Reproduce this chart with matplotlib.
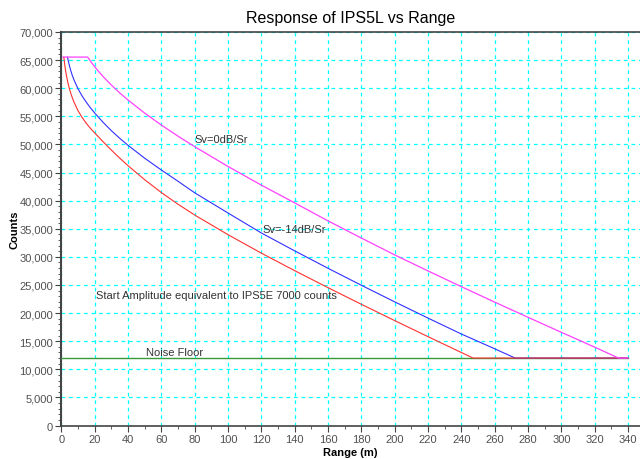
import matplotlib
matplotlib.use("Agg")
import matplotlib.pyplot as plt
from matplotlib.ticker import MultipleLocator, FuncFormatter, FixedLocator

plt.rcParams['font.family'] = ['Liberation Sans', 'DejaVu Sans']

# Data
red_x = [1.5, 2, 2.5, 3, 4, 5, 6, 7.5, 10, 12.5, 15, 17.5, 20, 25, 30, 35, 40, 50, 60,
         70, 80, 100, 120, 140, 160, 180, 200, 220, 240, 247, 340]
red_y = [65535, 64300, 63250, 62350, 60900, 59750, 58800, 57600, 56000, 54800, 53750,
         52850, 52050, 50500, 49000, 47575, 46225, 43725, 41445, 39365, 37445, 33945,
         30665, 27545, 24525, 21565, 18665, 15805, 12985, 12000, 12000]

blue_x = [3.7, 4.5, 5.5, 6.5, 7.5, 10, 12.5, 15, 17.5, 20, 25, 30, 35, 40, 50, 60, 70,
          80, 100, 120, 140, 160, 180, 200, 220, 240, 260, 272.3, 340]
blue_y = [65535, 64450, 63300, 62350, 61550, 59900, 58600, 57500, 56500, 55600, 53950,
          52450, 51100, 49850, 47550, 45450, 43450, 41400, 37800, 34250, 31070, 27970,
          24950, 22000, 19110, 16280, 13650, 12000, 12000]

mag_x = [1, 15.8, 17.5, 20, 22.5, 25, 30, 35, 40, 50, 60, 70, 80, 100, 120, 140, 160,
         180, 200, 220, 240, 260, 280, 300, 320, 334.3, 340]
mag_y = [65535, 65535, 64810, 63830, 62930, 62090, 60565, 59180, 57900, 55570, 53450,
         51470, 49600, 46080, 42760, 39600, 36400, 33350, 30350, 27500, 24700, 21950,
         19250, 16580, 13940, 12000, 12000]

noise_x = [0, 340]
noise_y = [12000, 12000]

x_ticks = list(range(0, 341, 20))
y_ticks = list(range(0, 70001, 5000))

fig = plt.figure(figsize=(6.4, 4.6), dpi=100)
ax = fig.add_axes([0.0958, 0.0728, 0.9042, 0.8555])

ax.plot(noise_x, noise_y, color='#3a9a3a', lw=1.0, zorder=3)
ax.plot(blue_x, blue_y, color='#3030ff', lw=0.8, zorder=4)
ax.plot(red_x, red_y, color='#ff3030', lw=0.8, zorder=5)
ax.plot(mag_x, mag_y, color='#ff40ff', lw=0.9, zorder=6)

ax.set_xlim(0, 347.2)
ax.set_ylim(0, 70000)
ax.xaxis.set_major_locator(FixedLocator(x_ticks))
ax.xaxis.set_minor_locator(MultipleLocator(10))
ax.yaxis.set_major_locator(FixedLocator(y_ticks))
ax.yaxis.set_minor_locator(MultipleLocator(1000))
ax.yaxis.set_major_formatter(FuncFormatter(lambda v, p: f"{v:,.0f}"))

ax.grid(True, which='major', color='#00ffff', linestyle=(0, (3, 3)), lw=0.9, zorder=1)

for s in ['left', 'bottom', 'top']:
    ax.spines[s].set_color('#444444')
ax.spines['left'].set_linewidth(1.5)
ax.spines['bottom'].set_linewidth(1.2)
ax.spines['top'].set_linewidth(1.2)
ax.spines['right'].set_visible(False)

ax.tick_params(axis='both', which='major', labelsize=8, labelcolor='#505050',
               color='#444444', length=4, direction='out', pad=2)
ax.tick_params(axis='both', which='minor', color='#444444', length=2, direction='out')

ax.set_xlabel('Range (m)', fontsize=8, fontweight='bold', labelpad=2)
ax.set_ylabel('Counts', fontsize=8, fontweight='bold', labelpad=0)
ax.set_title('Response of IPS5L vs Range', fontsize=11.5, pad=7)

tc = '#333333'
ax.text(80.2, 50970, 'Sv=0dB/Sr', fontsize=8, color=tc, va='center', ha='left', zorder=7)
ax.text(120.5, 34960, 'Sv=-14dB/Sr', fontsize=8, color=tc, va='center', ha='left', zorder=7)
ax.text(21, 23300, 'Start Amplitude equivalent to IPS5E 7000 counts', fontsize=8,
        color=tc, va='center', ha='left', zorder=7)
ax.text(51, 13100, 'Noise Floor', fontsize=8, color=tc, va='center', ha='left', zorder=7)

fig.savefig('out.png', dpi=100)
